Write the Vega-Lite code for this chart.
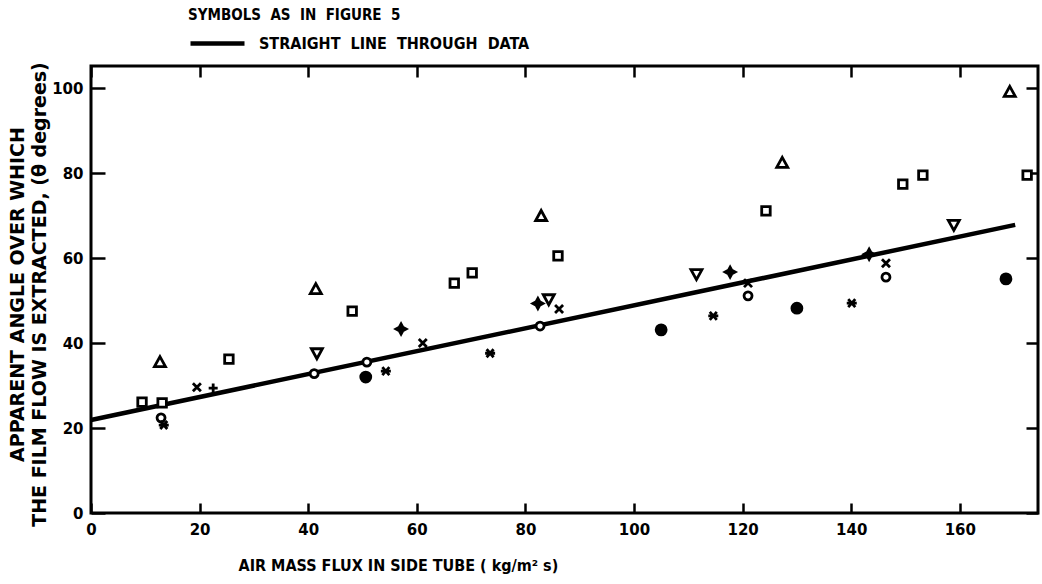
{
  "$schema": "https://vega.github.io/schema/vega-lite/v6.json",
  "width": 947,
  "height": 447,
  "autosize": {"type": "none"},
  "padding": {"left": 91, "top": 66, "right": 4, "bottom": 71},
  "background": "white",
  "config": {
    "view": {"stroke": "black", "strokeWidth": 3},
    "font": "DejaVu Sans",
    "axis": {
      "grid": false,
      "domain": false,
      "labelColor": "black",
      "labelFont": "DejaVu Sans",
      "labelFontWeight": "bold",
      "labelFontSize": 15,
      "tickColor": "black",
      "tickWidth": 2.5,
      "titleColor": "black",
      "titleFont": "DejaVu Sans Condensed",
      "titleFontWeight": "bold",
      "titleFontSize": 16
    }
  },
  "datasets": {
    "fit": [
      {"flux": 0, "angle": 21.9},
      {"flux": 170.2, "angle": 67.8}
    ],
    "points": [
      {"flux": 9.4, "angle": 26.1, "symbol": "square"},
      {"flux": 13.1, "angle": 25.9, "symbol": "square"},
      {"flux": 25.4, "angle": 36.2, "symbol": "square"},
      {"flux": 48.1, "angle": 47.5, "symbol": "square"},
      {"flux": 66.9, "angle": 54.1, "symbol": "square"},
      {"flux": 70.2, "angle": 56.5, "symbol": "square"},
      {"flux": 86.0, "angle": 60.5, "symbol": "square"},
      {"flux": 124.3, "angle": 71.1, "symbol": "square"},
      {"flux": 149.5, "angle": 77.4, "symbol": "square"},
      {"flux": 153.2, "angle": 79.5, "symbol": "square"},
      {"flux": 172.4, "angle": 79.5, "symbol": "square"},
      {"flux": 12.7, "angle": 35.5, "symbol": "triangle-up"},
      {"flux": 41.4, "angle": 52.7, "symbol": "triangle-up"},
      {"flux": 82.9, "angle": 69.9, "symbol": "triangle-up"},
      {"flux": 127.3, "angle": 82.4, "symbol": "triangle-up"},
      {"flux": 169.2, "angle": 99.1, "symbol": "triangle-up"},
      {"flux": 41.6, "angle": 37.6, "symbol": "triangle-down"},
      {"flux": 84.3, "angle": 50.3, "symbol": "triangle-down"},
      {"flux": 111.5, "angle": 56.2, "symbol": "triangle-down"},
      {"flux": 158.9, "angle": 67.8, "symbol": "triangle-down"},
      {"flux": 12.9, "angle": 22.4, "symbol": "circle"},
      {"flux": 41.1, "angle": 32.8, "symbol": "circle"},
      {"flux": 50.8, "angle": 35.5, "symbol": "circle"},
      {"flux": 82.7, "angle": 44.0, "symbol": "circle"},
      {"flux": 121.0, "angle": 51.1, "symbol": "circle"},
      {"flux": 146.4, "angle": 55.5, "symbol": "circle"},
      {"flux": 50.6, "angle": 32.0, "symbol": "dot"},
      {"flux": 105.0, "angle": 43.1, "symbol": "dot"},
      {"flux": 130.0, "angle": 48.2, "symbol": "dot"},
      {"flux": 168.5, "angle": 55.1, "symbol": "dot"},
      {"flux": 19.5, "angle": 29.6, "symbol": "x"},
      {"flux": 61.1, "angle": 40.0, "symbol": "x"},
      {"flux": 86.2, "angle": 48.0, "symbol": "x"},
      {"flux": 121.0, "angle": 54.1, "symbol": "x"},
      {"flux": 146.4, "angle": 58.8, "symbol": "x"},
      {"flux": 22.5, "angle": 29.4, "symbol": "plus"},
      {"flux": 13.4, "angle": 20.7, "symbol": "asterisk"},
      {"flux": 54.3, "angle": 33.4, "symbol": "asterisk"},
      {"flux": 73.5, "angle": 37.6, "symbol": "asterisk"},
      {"flux": 114.6, "angle": 46.4, "symbol": "asterisk"},
      {"flux": 140.1, "angle": 49.4, "symbol": "asterisk"},
      {"flux": 57.1, "angle": 43.3, "symbol": "star"},
      {"flux": 82.3, "angle": 49.3, "symbol": "star"},
      {"flux": 117.7, "angle": 56.7, "symbol": "star"},
      {"flux": 143.3, "angle": 60.9, "symbol": "star"}
    ]
  },
  "layer": [
    {
      "data": {"name": "fit"},
      "mark": {"type": "line", "strokeWidth": 4.5, "strokeCap": "butt"},
      "encoding": {
        "x": {
          "field": "flux",
          "type": "quantitative",
          "scale": {"domain": [0, 174.4], "nice": false, "zero": false},
          "axis": {
            "orient": "bottom",
            "values": [0, 20, 40, 60, 80, 100, 120, 140, 160],
            "tickSize": -10,
            "labelPadding": 19,
            "labelBaseline": "top",
            "labelFlush": false,
            "title": "AIR  MASS  FLUX  IN  SIDE  TUBE  ( kg/m² s)",
            "titleX": 147,
            "titleY": 52,
            "titleAlign": "left",
            "titleAnchor": "start",
            "titleBaseline": "middle"
          }
        },
        "y": {
          "field": "angle",
          "type": "quantitative",
          "scale": {"domain": [0, 105.2], "nice": false, "zero": false},
          "axis": {
            "orient": "left",
            "values": [0, 20, 40, 60, 80, 100],
            "tickSize": -14,
            "labelPadding": 22,
            "labelFlush": false,
            "title": ["APPARENT ANGLE OVER WHICH", "THE FILM FLOW IS EXTRACTED, (θ degrees)"],
            "titleFont": "DejaVu Sans",
            "titleFontSize": 19,
            "titleX": -83,
            "titleY": 228,
            "titleAngle": -90,
            "titleAlign": "center",
            "titleBaseline": "top",
            "titleLineHeight": 22
          }
        },
        "stroke": {
          "datum": "STRAIGHT\u00a0 LINE\u00a0 THROUGH\u00a0 DATA",
          "scale": {"range": ["black"]},
          "legend": {
            "orient": "none",
            "legendX": 97,
            "legendY": -58,
            "title": "SYMBOLS\u00a0 AS\u00a0 IN\u00a0 FIGURE\u00a0 5",
            "titleFont": "DejaVu Sans Condensed",
            "titleFontSize": 15,
            "titleFontWeight": "bold",
            "titleColor": "black",
            "titlePadding": -9,
            "titleLimit": 600,
            "labelFont": "DejaVu Sans Condensed",
            "labelFontSize": 16,
            "labelFontWeight": "bold",
            "labelColor": "black",
            "labelOffset": 12,
            "labelLimit": 600,
            "symbolType": "stroke",
            "symbolSize": 2916,
            "symbolStrokeWidth": 4.5,
            "symbolStrokeColor": "black",
            "padding": 0
          }
        }
      }
    },
    {
      "data": {"name": "points"},
      "mark": {"type": "point", "stroke": "black", "strokeWidth": 2.8, "size": 100, "opacity": 1},
      "encoding": {
        "x": {
          "field": "flux",
          "type": "quantitative",
          "scale": {"domain": [0, 174.4], "nice": false, "zero": false},
          "axis": {
            "orient": "top",
            "values": [0, 20, 40, 60, 80, 100, 120, 140, 160],
            "tickSize": -11,
            "labels": false,
            "title": null
          }
        },
        "y": {
          "field": "angle",
          "type": "quantitative",
          "scale": {"domain": [0, 105.2], "nice": false, "zero": false},
          "axis": {
            "orient": "right",
            "values": [0, 20, 40, 60, 80, 100],
            "tickSize": -12,
            "labels": false,
            "title": null
          }
        },
        "shape": {
          "field": "symbol",
          "type": "nominal",
          "scale": {
            "domain": ["square", "triangle-up", "triangle-down", "circle", "dot", "x", "plus", "asterisk", "star"],
            "range": [
              "M-0.85,-0.85H0.85V0.85H-0.85Z",
              "M0,-1.1L1.1,0.9L-1.1,0.9Z",
              "M-1.1,-0.9L1.1,-0.9L0,1.1Z",
              "M-0.8,0A0.8,0.8 0 1,0 0.8,0A0.8,0.8 0 1,0 -0.8,0Z",
              "M-1,0A1,1 0 1,0 1,0A1,1 0 1,0 -1,0Z",
              "M-0.8,-0.8L0.8,0.8M-0.8,0.8L0.8,-0.8",
              "M-0.9,0H0.9M0,-0.9V1.2",
              "M-1,0H1M-0.7,-0.8L0.7,0.8M-0.7,0.8L0.7,-0.8",
              "M0,-1L0.35,-0.35L1,0L0.35,0.35L0,1L-0.35,0.35L-1,0L-0.35,-0.35Z"
            ]
          },
          "legend": null
        },
        "fill": {
          "field": "symbol",
          "type": "nominal",
          "scale": {
            "domain": ["square", "triangle-up", "triangle-down", "circle", "dot", "x", "plus", "asterisk", "star"],
            "range": ["white", "white", "white", "white", "black", "white", "white", "white", "black"]
          },
          "legend": null
        }
      }
    }
  ],
  "resolve": {"axis": {"x": "independent", "y": "independent"}}
}
